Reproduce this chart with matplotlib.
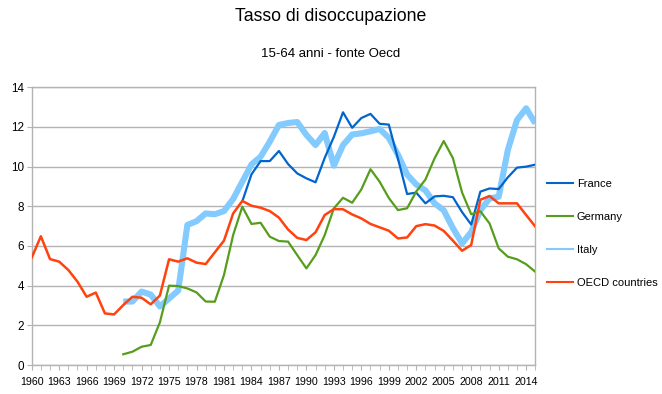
import matplotlib
matplotlib.use("Agg")
import matplotlib.pyplot as plt
from matplotlib.ticker import MultipleLocator, FixedLocator
import numpy as np

plt.rcParams['font.family'] = ['Liberation Sans', 'DejaVu Sans']

years = list(range(1960, 2016))

france_years = list(range(1983, 2016))
france = [8.25, 9.61, 10.28, 10.28, 10.79, 10.13, 9.66, 9.41, 9.21, 10.44,
          11.5, 12.74, 11.96, 12.45, 12.66, 12.16, 12.12, 10.4, 8.62, 8.69,
          8.15, 8.5, 8.53, 8.46, 7.71, 7.08, 8.74, 8.9, 8.87, 9.46,
          9.95, 10.0, 10.1]

germany_years = list(range(1970, 2016))
germany = [0.54, 0.67, 0.92, 1.01, 2.15, 4.0, 3.98, 3.86, 3.66, 3.2,
           3.19, 4.54, 6.55, 7.98, 7.11, 7.17, 6.47, 6.25, 6.22, 5.54,
           4.87, 5.54, 6.55, 7.9, 8.43, 8.18, 8.85, 9.87, 9.24, 8.42,
           7.81, 7.9, 8.75, 9.35, 10.42, 11.29, 10.43, 8.7, 7.6, 7.75,
           7.14, 5.88, 5.46, 5.33, 5.08, 4.70]

italy_years = list(range(1970, 2016))
italy = [3.2, 3.2, 3.7, 3.55, 2.95, 3.35, 3.75, 7.06, 7.25, 7.64,
         7.6, 7.76, 8.37, 9.24, 10.11, 10.5, 11.26, 12.1, 12.2, 12.25,
         11.6, 11.09, 11.7, 10.05, 11.09, 11.62, 11.68, 11.78, 11.9, 11.45,
         10.6, 9.6, 9.1, 8.8, 8.15, 7.8, 6.9, 6.13, 6.7, 7.8,
         8.4, 8.48, 10.84, 12.35, 12.94, 12.18]

oecd_years = list(range(1960, 2016))
oecd = [5.41, 6.49, 5.34, 5.21, 4.79, 4.2, 3.44, 3.65, 2.6, 2.55,
        3.02, 3.44, 3.39, 3.06, 3.5, 5.33, 5.21, 5.38, 5.16, 5.09,
        5.68, 6.27, 7.64, 8.27, 8.03, 7.93, 7.76, 7.43, 6.83, 6.41,
        6.3, 6.69, 7.56, 7.86, 7.85, 7.59, 7.39, 7.11, 6.94, 6.77,
        6.38, 6.43, 7.0, 7.1, 7.03, 6.76, 6.27, 5.76, 6.05, 8.33,
        8.52, 8.15, 8.15, 8.15, 7.56, 6.98]

labels = ["France", "Germany", "Italy", "OECD countries"]
colors = ["#0066cc", "#579d1c", "#83caff", "#ff420e"]

W, H = 662, 394
fig = plt.figure(figsize=(W / 100, H / 100), dpi=100)
ax = fig.add_axes([31.7 / W, 1 - 365 / H, (535.3 - 31.7) / W, (365 - 87.3) / H])

ax.plot(france_years, france, color=colors[0], lw=1.6, label=labels[0], zorder=3)
ax.plot(germany_years, germany, color=colors[1], lw=1.6, label=labels[1], zorder=3)
ax.plot(italy_years, italy, color=colors[2], lw=4.4, label=labels[2], zorder=2,
        solid_joinstyle='round', solid_capstyle='butt')
ax.plot(oecd_years, oecd, color=colors[3], lw=1.8, label=labels[3], zorder=4)

ax.set_xlim(1960, 2015)
ax.set_ylim(0, 14)
ax.yaxis.set_major_locator(MultipleLocator(2))
ax.xaxis.set_major_locator(FixedLocator(list(range(1960, 2015, 3))))
ax.xaxis.set_minor_locator(FixedLocator(years))
ax.set_xticklabels([str(y) for y in range(1960, 2015, 3)])

ax.grid(axis='y', color='#b3b3b3', lw=1)
ax.set_axisbelow(True)
for s in ax.spines.values():
    s.set_color('#b3b3b3')
    s.set_linewidth(1)
ax.tick_params(axis='x', which='both', length=3.5, color='#b3b3b3', labelsize=7.7, pad=5)
ax.tick_params(axis='y', length=3.6, color='#b3b3b3', labelsize=8.4, pad=2)

fig.text(331 / W, 1 - 21 / H, "Tasso di disoccupazione", ha='center', va='baseline', fontsize=12.7)
fig.text(331 / W, 1 - 56.7 / H, "15-64 anni - fonte Oecd", ha='center', va='baseline', fontsize=9.5)

leg_handles = [plt.Line2D([], [], color=c, lw=1.5) for c in colors]
fig.legend(leg_handles, labels, loc='center left', bbox_to_anchor=(546.7 / W, 1 - 233.8 / H),
           frameon=False, borderpad=0, borderaxespad=0, fontsize=8, handlelength=2.4,
           handletextpad=0.3, labelspacing=2.07)

fig.savefig("out.png", dpi=100)
